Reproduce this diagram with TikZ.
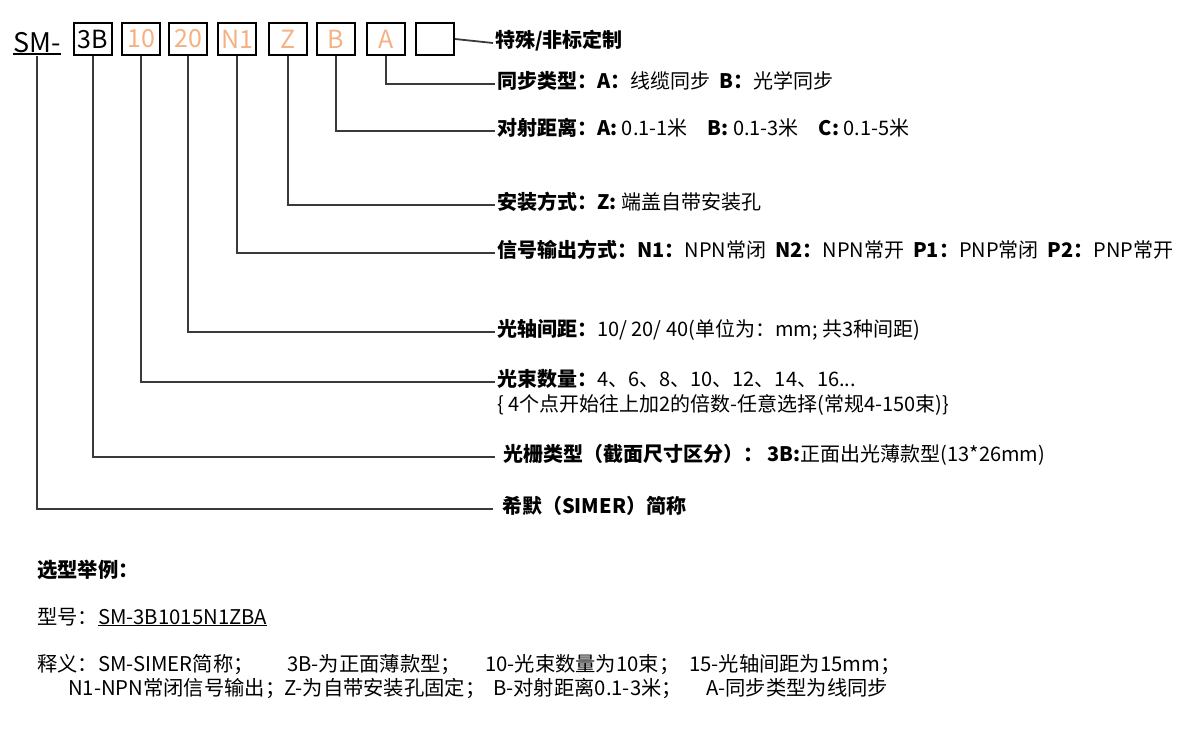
\documentclass[tikz,border=0pt]{standalone}
\usepackage{fontspec}
\setmainfont{Noto Sans CJK SC}
\usepackage{xcolor}
\usepackage{tikz}
\usetikzlibrary{positioning,calc}
\definecolor{smPeach}{HTML}{F4B183}
\definecolor{smLead}{HTML}{3A3A3A}
\tikzset{
  codebox/.style={
    draw=black, line width=2pt, minimum width=38pt, minimum height=32pt,
    inner sep=0pt, font=\fontsize{25}{25}\selectfont, anchor=north west
  },
  peach/.style={codebox, text=smPeach},
  lead/.style={draw=smLead, line width=1.8pt},
  desc/.style={anchor=base west, inner xsep=2pt, inner ysep=0pt,
    font=\fontsize{20}{24}\selectfont},
  note/.style={anchor=base west, inner sep=0pt, font=\fontsize{20.3}{24}\selectfont}
}

\begin{document}
\begin{tikzpicture}[x=1pt, y=-1pt]
  \useasboundingbox (0,0) rectangle (1185,736);

  % model code
  \node[anchor=south west, inner sep=0pt, font=\fontsize{27}{27}\selectfont] (sm) at (13,53) {SM-};
  \node[codebox] (b3B) at (73,22) {3B};
  \node[peach] (b10) at (121,22) {10};
  \node[peach] (b20) at (168,22) {20};
  \node[peach] (bN1) at (217,22) {N1};
  \node[peach] (bZ)  at (268,22) {Z};
  \node[peach] (bB)  at (316,22) {B};
  \node[peach] (bA)  at (366,22) {A};
  \node[codebox] (bX) at (415,22) {};
  \draw[line width=2pt] ([yshift=-1pt]sm.south west) -- ([yshift=-1pt]sm.south east);

  % descriptions (base sits 4pt under the lead)
  \node[desc] (lX)  at (493,47)  {\textbf{特殊/非标定制}};
  \node[desc] (lA)  at (495,88)  {\textbf{同步类型：A：}线缆同步 \ \textbf{B：}光学同步};
  \node[desc] (lB)  at (495,135) {\textbf{对射距离：A:} 0.1-1米\hspace{20pt}\textbf{B:} 0.1-3米\hspace{20pt}\textbf{C:} 0.1-5米};
  \node[desc] (lZ)  at (495,209) {\textbf{安装方式：Z:} 端盖自带安装孔};
  \node[desc] (lN1) at (495,257) {\textbf{信号输出方式：N1：}NPN常闭 \ \textbf{N2：}NPN常开 \ \textbf{P1：}PNP常闭 \ \textbf{P2：}PNP常开};
  \node[desc] (l20) at (495,336) {\textbf{光轴间距：}10/ 20/ 40(单位为：mm; 共3种间距)};
  \node[desc] (l10) at (495,386) {\textbf{光束数量：}4、6、8、10、12、14、16...};
  \node[desc] (l10b) at (495,411) {\{ 4个点开始往上加2的倍数-任意选择(常规4-150束)\}};
  \node[desc] (l3B) at (495,461) {\hspace*{6pt}\textbf{光栅类型（截面尺寸区分）： 3B:}正面出光薄款型(13*26mm)};
  \node[desc] (lSM) at (493,513) {\hspace*{7pt}\textbf{希默（SIMER）简称}};

  % leads
  \draw[lead] (bX.east) -- ([yshift=4pt]lX.base west);
  \draw[lead] (bA.south) |- ([yshift=4pt]lA.base west);
  \draw[lead] (bB.south) |- ([yshift=4pt]lB.base west);
  \draw[lead] (bZ.south) |- ([yshift=4pt]lZ.base west);
  \draw[lead] (bN1.south) |- ([yshift=4pt]lN1.base west);
  \draw[lead] (b20.south) |- ([yshift=4pt]l20.base west);
  \draw[lead] (b10.south) |- ([yshift=4pt]l10.base west);
  \draw[lead] (b3B.south) |- ([yshift=4pt]l3B.base west);
  \draw[lead] ([yshift=-3pt]sm.south) |- ([yshift=4pt]lSM.base west);

  % example
  \node[note] (exTitle) at (37,577) {\textbf{选型举例：}};
  \node[note] (exModel) at (37,624) {型号：\underline{SM-3B1015N1ZBA}};
  \node[note] (exOneA) at (37,671)  {释义：SM-SIMER简称；};
  \node[note] (exOneB) at (287,671) {3B-为正面薄款型；};
  \node[note] (exOneC) at (485,671) {10-光束数量为10束；};
  \node[note] (exOneD) at (689,671) {15-光轴间距为15mm；};
  \node[note] (exTwoA) at (68,695)  {N1-NPN常闭信号输出；};
  \node[note] (exTwoB) at (284,695) {Z-为自带安装孔固定；};
  \node[note] (exTwoC) at (493,695) {B-对射距离0.1-3米；};
  \node[note] (exTwoD) at (706,695) {A-同步类型为线同步};
\end{tikzpicture}
\end{document}
